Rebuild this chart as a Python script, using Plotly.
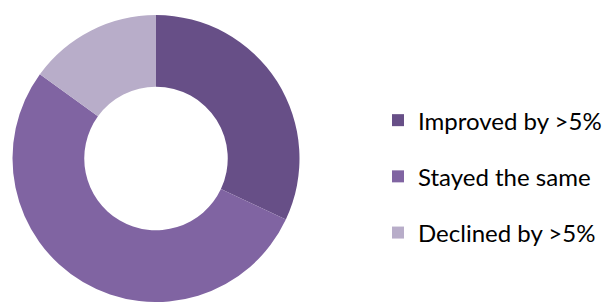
import plotly.graph_objects as go

categories = ["Improved by >5%", "Stayed the same", "Declined by >5%"]
values = [32, 53, 15]
colors = ["#674F87", "#8064A2", "#B8ADC9"]

W, H = 610, 302
fig = go.Figure()
fig.add_trace(go.Pie(
    labels=categories, values=values, hole=0.5, sort=False,
    direction="clockwise", rotation=0, textinfo="none",
    marker=dict(colors=colors, line=dict(width=0)),
    showlegend=False, hoverinfo="label+percent",
    domain=dict(x=[12.5 / W, 299.5 / W], y=[0, 1]),
))
for i, (name, col) in enumerate(zip(categories, colors)):
    fig.add_trace(go.Scatter(
        x=[None], y=[None], mode="markers", name=name,
        marker=dict(symbol="square", size=13, color=col),
        legendgroup=f"g{i}", showlegend=True,
    ))

fig.update_layout(
    width=W, height=H,
    margin=dict(l=0, r=0, t=15, b=0),
    paper_bgcolor="white", plot_bgcolor="white",
    xaxis=dict(visible=False), yaxis=dict(visible=False),
    showlegend=True,
    legend=dict(
        x=378 / W, y=1 - 170 / H, xanchor="left", yanchor="middle",
        font=dict(family="Lato, Open Sans, sans-serif", size=24, color="#000000"),
        tracegroupgap=22, itemsizing="constant",
        bgcolor="rgba(0,0,0,0)",
    ),
)
fig.write_html("out.html", config={"displayModeBar": False},
               post_script="document.body.style.margin='0';")
